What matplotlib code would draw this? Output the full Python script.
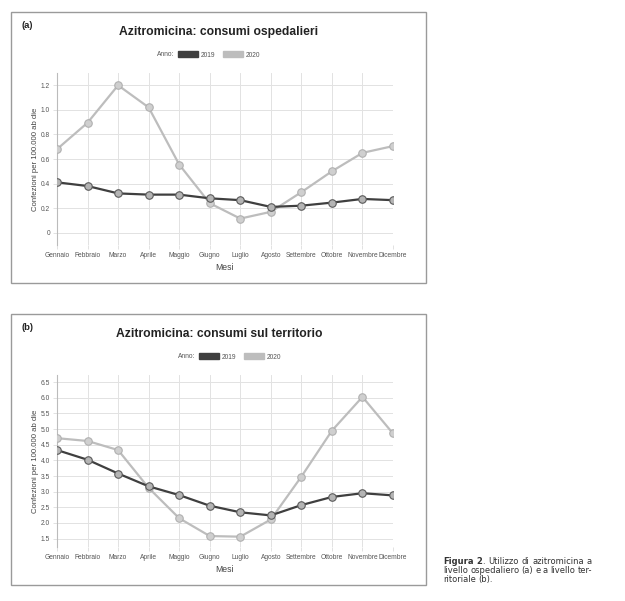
import matplotlib.pyplot as plt
from matplotlib.patches import Rectangle, Patch

plt.rcParams['font.family'] = ['Liberation Sans', 'DejaVu Sans']

mesi = ['Gennaio', 'Febbraio', 'Marzo', 'Aprile', 'Maggio', 'Giugno',
        'Luglio', 'Agosto', 'Settembre', 'Ottobre', 'Novembre', 'Dicembre']

# (a) consumi ospedalieri
osp_2019 = [0.41, 0.38, 0.32, 0.31, 0.31, 0.28, 0.265, 0.21, 0.22, 0.245, 0.275, 0.265]
osp_2020 = [0.68, 0.895, 1.20, 1.02, 0.555, 0.24, 0.115, 0.17, 0.33, 0.50, 0.65, 0.705]
osp_ticks = [0, 0.2, 0.4, 0.6, 0.8, 1.0, 1.2]
osp_ticklabels = ['0', '0.2', '0.4', '0.6', '0.8', '1.0', '1.2']

# (b) consumi sul territorio
ter_2019 = [4.33, 4.02, 3.58, 3.17, 2.89, 2.55, 2.34, 2.24, 2.57, 2.83, 2.95, 2.88]
ter_2020 = [4.71, 4.62, 4.33, 3.12, 2.15, 1.58, 1.56, 2.11, 3.48, 4.95, 6.03, 4.86]
ter_ticks = [1.5, 2.0, 2.5, 3.0, 3.5, 4.0, 4.5, 5.0, 5.5, 6.0, 6.5]
ter_ticklabels = ['%.1f' % t for t in ter_ticks]

# caption: each word is a list of (text, bold) pieces
caption_lines = [
    [[('Figura', True)], [('2', True), ('.', False)], [('Utilizzo', False)],
     [('di', False)], [('azitromicina', False)], [('a', False)]],
    [[(w, False)] for w in 'livello ospedaliero (a) e a livello ter-'.split()],
    [[(w, False)] for w in 'ritoriale (b).'.split()],
]

C19 = '#3f3f3f'
C20 = '#bdbdbd'
W, H = 625, 601


def fx(x):
    return x / W


def fy(y):
    return 1 - y / H


fig = plt.figure(figsize=(6.25, 6.01), dpi=100)


def panel(top, letter, title, d19, d20, ticks, ticklabels, ylim, legend_x):
    # frame of the panel
    fig.patches.append(Rectangle((fx(11), fy(top + 271)), fx(415), 271 / H,
                                 transform=fig.transFigure, fill=False,
                                 edgecolor='#9a9a9a', lw=1.0))
    fig.text(fx(21), fy(top + 13), letter, fontsize=6.8, fontweight='bold',
             va='center', ha='left', color='#222222')
    fig.text(fx(219), fy(top + 20), title, fontsize=8.7, fontweight='bold',
             va='center', ha='center', color='#222222')

    ax = fig.add_axes([fx(57), fy(top + 233), fx(336), 172 / H])
    x = range(len(mesi))
    ax.plot(x, d19, color=C19, lw=1.6, marker='o', ms=5.4,
            mfc='#b4b4b4', mec='#5a5a5a', mew=0.8, zorder=4)
    ax.plot(x, d20, color=C20, lw=1.6, marker='o', ms=5.4,
            mfc='#cfcfcf', mec='#b0b0b0', mew=0.8, zorder=3)
    ax.set_xlim(0, len(mesi) - 1)
    ax.set_ylim(*ylim)
    ax.set_xticks(list(x))
    ax.set_xticklabels(mesi, fontsize=4.8, color='#555555')
    ax.set_yticks(ticks)
    ax.set_yticklabels(ticklabels, fontsize=4.8, color='#555555')
    ax.grid(True, color='#e2e2e2', lw=0.7)
    ax.tick_params(length=3, color='#e2e2e2', width=0.7, pad=2)
    for s in ['top', 'right', 'bottom']:
        ax.spines[s].set_visible(False)
    ax.spines['left'].set_color('#bbbbbb')
    ax.spines['left'].set_linewidth(0.8)
    ax.set_xlabel('Mesi', fontsize=6.2, color='#444444', labelpad=3)
    ax.set_ylabel('Confezioni per 100.000 ab die', fontsize=5.6,
                  color='#444444', labelpad=1)

    handles = [Patch(facecolor=C19, edgecolor=C19, label='2019'),
               Patch(facecolor=C20, edgecolor=C20, label='2020')]
    fig.text(fx(legend_x - 4), fy(top + 43), 'Anno:', fontsize=4.8,
             color='#555555', va='center', ha='right')
    fig.legend(handles=handles, loc='center left', ncol=2,
               bbox_to_anchor=(fx(legend_x), fy(top + 43)), frameon=False,
               fontsize=4.8, handlelength=3.0, handleheight=0.9,
               handletextpad=0.4, columnspacing=1.2, borderpad=0,
               borderaxespad=0, labelcolor='#555555')
    return ax


panel(12, '(a)', 'Azitromicina: consumi ospedalieri', osp_2019, osp_2020,
      osp_ticks, osp_ticklabels, (-0.1, 1.3), 178)
panel(314, '(b)', 'Azitromicina: consumi sul territorio', ter_2019, ter_2020,
      ter_ticks, ter_ticklabels, (1.23, 6.73), 199)

# caption, justified by hand between x=443 and x=592
cap_kw = dict(fontsize=6.0, family=['DejaVu Sans'], fontstretch='normal',
              va='center', ha='left', color='#333333')
renderer = fig.canvas.get_renderer()
x0, x1 = 443, 592


def width(s, bold):
    t = fig.text(0, 0, s, fontweight='bold' if bold else 'normal', **cap_kw)
    w = t.get_window_extent(renderer).width
    t.remove()
    return w


space = width('a a', False) - 2 * width('a', False)
for i, words in enumerate(caption_lines):
    y = fy(562 + 8.6 * i)
    widths = [sum(width(s, b) for s, b in wd) for wd in words]
    if i == len(caption_lines) - 1:
        gap = space
    else:
        gap = (x1 - x0 - sum(widths)) / (len(words) - 1)
    xp = x0
    for wd, ww in zip(words, widths):
        xx = xp
        for s, b in wd:
            fig.text(fx(xx), y, s, fontweight='bold' if b else 'normal', **cap_kw)
            xx += width(s, b)
        xp += ww + gap

fig.savefig('out.png', dpi=100)
